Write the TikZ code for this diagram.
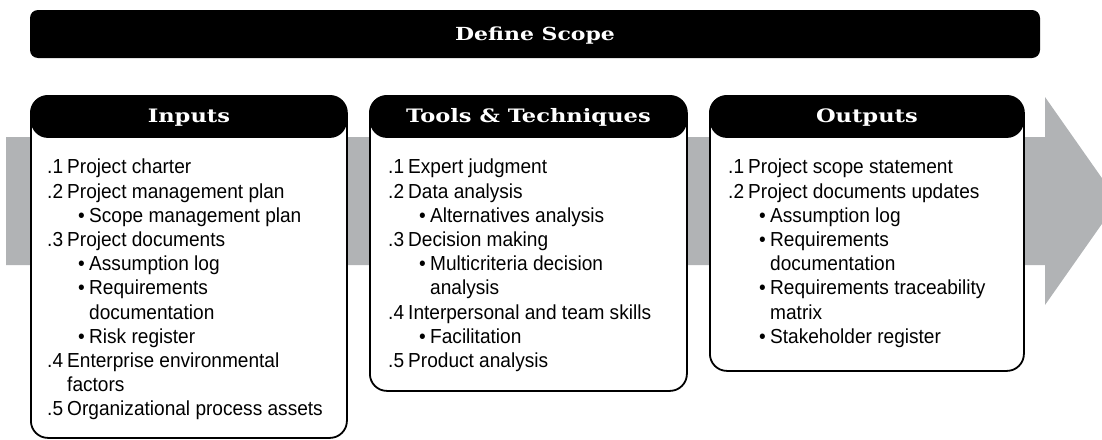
\documentclass[tikz,border=0pt]{standalone}
\usepackage{fontspec}
\setmainfont{Liberation Sans}[FakeStretch=0.94]
\newfontfamily\headfont{DejaVu Serif}[FakeStretch=1.22]
\definecolor{arrowgrey}{RGB}{177,179,181}
% list lines: numbered item, bulleted sub item, wrapped lines
\newcommand\nitem[2]{\makebox[20pt][l]{#1}#2}
\newcommand\bitem[1]{\hspace*{31pt}\makebox[11pt][l]{\textbullet}#1}
\newcommand\bwrap[1]{\hspace*{42pt}#1}
\newcommand\nwrap[1]{\hspace*{20pt}#1}
\begin{document}
\begin{tikzpicture}[x=1pt,y=-1pt,
  procbox/.style={draw,line width=1.8pt,fill=white,rounded corners=17pt,
    anchor=north west,minimum width=#1,inner sep=0pt,
    path picture={\fill[black] (path picture bounding box.north west)
      rectangle ([yshift=-42pt]path picture bounding box.north east);}},
  headtxt/.style={text=white,font=\headfont\bfseries\fontsize{18.5}{22}\selectfont,anchor=base},
  itemlist/.style={anchor=north west,inner sep=0pt,align=left,
    font=\fontsize{20.3}{24.2}\selectfont}]
  \useasboundingbox (0,0) rectangle (1102,439);
  \clip (0,0) rectangle (1102,439);
  % grey flow arrow behind the boxes
  \fill[arrowgrey] (6,137)--(1045,137)--(1045,97)--(1118,201)--(1045,305)--(1045,265)--(6,265)--cycle;
  % title bar
  \node[fill=black,rounded corners=8pt,minimum width=1010pt,minimum height=48pt,text depth=0pt,
    text=white,font=\headfont\bfseries\fontsize{18}{22}\selectfont] (scope) at (535,34) {Define Scope};
  % the three boxes
  \node[procbox=316pt,minimum height=342pt] (inputs) at (30,95) {};
  \node[procbox=317pt,minimum height=295pt] (tools) at (369,95) {};
  \node[procbox=314pt,minimum height=275pt] (outputs) at (709,95) {};
  \node[headtxt] (inputsHead) at ([yshift=-27pt]inputs.north) {Inputs};
  \node[headtxt] (toolsHead) at ([yshift=-27pt]tools.north) {Tools \& Techniques};
  \node[headtxt] (outputsHead) at ([yshift=-27pt]outputs.north) {Outputs};
  \node[itemlist] (inputsList) at ([xshift=17pt,yshift=-64pt]inputs.north west) {%
    \nitem{.1}{Project charter}\\
    \nitem{.2}{Project management plan}\\
    \bitem{Scope management plan}\\
    \nitem{.3}{Project documents}\\
    \bitem{Assumption log}\\
    \bitem{Requirements}\\
    \bwrap{documentation}\\
    \bitem{Risk register}\\
    \nitem{.4}{Enterprise environmental}\\
    \nwrap{factors}\\
    \nitem{.5}{Organizational process assets}};
  \node[itemlist] (toolsList) at ([xshift=19pt,yshift=-64pt]tools.north west) {%
    \nitem{.1}{Expert judgment}\\
    \nitem{.2}{Data analysis}\\
    \bitem{Alternatives analysis}\\
    \nitem{.3}{Decision making}\\
    \bitem{Multicriteria decision}\\
    \bwrap{analysis}\\
    \nitem{.4}{Interpersonal and team skills}\\
    \bitem{Facilitation}\\
    \nitem{.5}{Product analysis}};
  \node[itemlist] (outputsList) at ([xshift=19pt,yshift=-64pt]outputs.north west) {%
    \nitem{.1}{Project scope statement}\\
    \nitem{.2}{Project documents updates}\\
    \bitem{Assumption log}\\
    \bitem{Requirements}\\
    \bwrap{documentation}\\
    \bitem{Requirements traceability}\\
    \bwrap{matrix}\\
    \bitem{Stakeholder register}};
\end{tikzpicture}
\end{document}
